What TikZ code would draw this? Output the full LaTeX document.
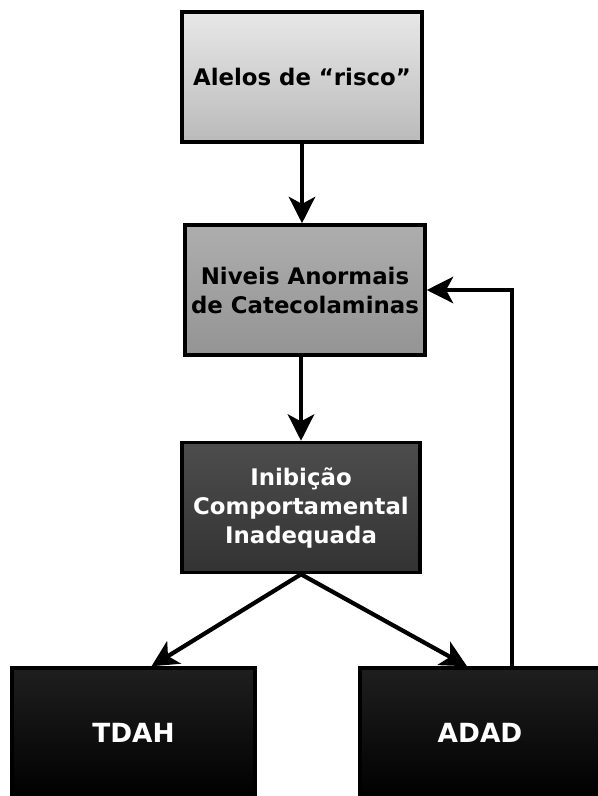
\documentclass[tikz,border=0pt]{standalone}
\usepackage{fontspec}
\setmainfont{DejaVu Sans}
\usetikzlibrary{arrows.meta}
\begin{document}
\begin{tikzpicture}[
  caixa/.style={draw=black,line width=2pt,minimum width=4.8cm,minimum height=2.6cm,
    align=center,font=\bfseries\fontsize{13}{16.5}\selectfont,shading=axis},
  fim/.style={caixa,top color=black!88,bottom color=black,text=white,
    font=\bfseries\fontsize{15}{17}\selectfont},
  seta/.style={line width=2.4pt,-{Stealth[length=15pt,width=15pt,inset=4pt]}}]
 \clip(0,0)rectangle(11.96,-15.92);
 \node[caixa,top color=black!9,bottom color=black!27](risco)at(6.04,-1.54){Alelos de “risco”};
 \node[caixa,top color=black!32,bottom color=black!42](niveis)at(6.1,-5.8){Niveis Anormais\\de Catecolaminas};
 \node[caixa,top color=black!70,bottom color=black!80,text=white,minimum width=4.76cm](inib)at(6.02,-10.15){Inibição\\Comportamental\\Inadequada};
 \node[fim,minimum width=4.86cm](tdah)at(2.67,-14.66){TDAH};
 \node[fim](adad)at(9.6,-14.66){ADAD};
 \draw[seta](risco.south)--(risco.south|-niveis.north);
 \draw[seta](niveis.south-|inib.north)--(inib.north);
 \draw[seta](inib.south)--([xshift=0.36cm]tdah.north);
 \draw[seta](inib.south)--([xshift=-0.26cm]adad.north);
 \coordinate(volta)at(10.24,0);
 \draw[seta](adad.north-|volta)|-(niveis.east);
\end{tikzpicture}
\end{document}
